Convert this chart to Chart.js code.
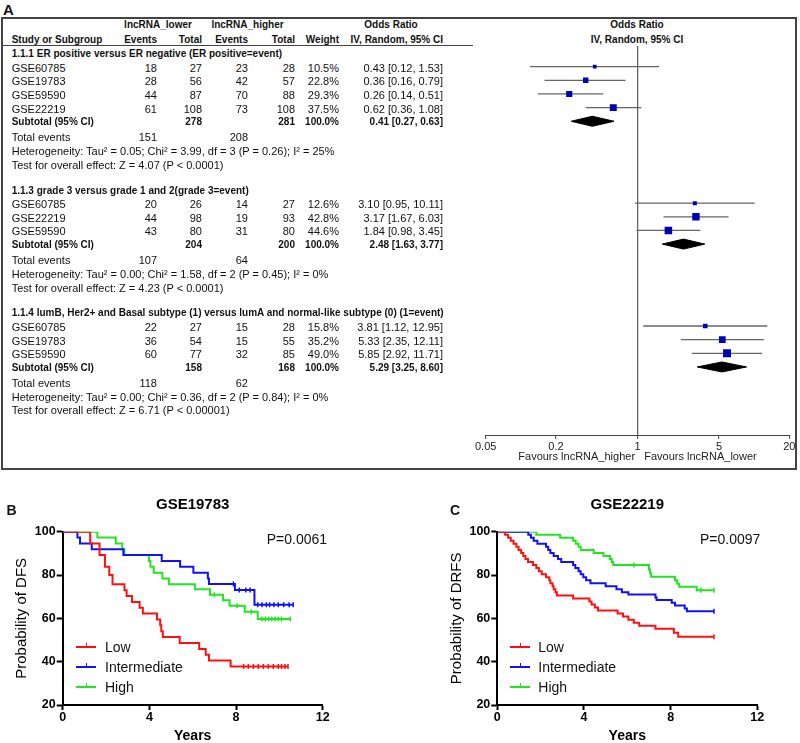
<!DOCTYPE html>
<html>
<head>
<meta charset="utf-8">
<script src="https://cdn.jsdelivr.net/npm/chart.js@4.4.1/dist/chart.umd.min.js"></script>
<style>
  html, body { margin: 0; padding: 0; background: #fff; overflow: hidden; }
  body { width: 800px; height: 743px; position: relative; font-family: "Liberation Sans", Arial, sans-serif; color: #111; }
  .t { position: absolute; white-space: nowrap; line-height: 1; font-size: 11px; }
  .b { font-weight: bold; font-size: 10px; }
  canvas { position: absolute; }
  #boxA { position: absolute; left: 1px; top: 17px; width: 796px; height: 453px; border: 2px solid #444; box-sizing: border-box; }
  #hdrLine { position: absolute; left: 2px; top: 45px; width: 471px; height: 0; border-top: 1.5px solid #444; }
</style>
</head>
<body>
<div id="boxA"></div>
<div id="hdrLine"></div>
<canvas id="forest" width="357" height="424" style="left:440px;top:46px;"></canvas>
<canvas id="kmB" width="400" height="253" style="left:0px;top:490px;"></canvas>
<canvas id="kmC" width="365" height="253" style="left:435px;top:490px;"></canvas>
<script>
// ---- panel A: forest plot data ----
const groupTitles = [
  '1.1.1 ER positive versus ER negative (ER positive=event)',
  '1.1.3 grade 3 versus grade 1 and 2(grade 3=event)',
  '1.1.4 lumB, Her2+ and Basal subtype (1) versus lumA and normal-like subtype (0) (1=event)'
];
const studyGroup = [0, 0, 0, 0, 1, 1, 1, 2, 2, 2];
const studyNames = ['GSE60785', 'GSE19783', 'GSE59590', 'GSE22219', 'GSE60785', 'GSE22219', 'GSE59590', 'GSE60785', 'GSE19783', 'GSE59590'];
const lowerEvents = [18, 28, 44, 61, 20, 44, 43, 22, 36, 60];
const lowerTotal = [27, 56, 87, 108, 26, 98, 80, 27, 54, 77];
const higherEvents = [23, 42, 70, 73, 14, 19, 31, 15, 15, 32];
const higherTotal = [28, 57, 88, 108, 27, 93, 80, 28, 55, 85];
const weights = [10.5, 22.8, 29.3, 37.5, 12.6, 42.8, 44.6, 15.8, 35.2, 49.0];
const orEst = [0.43, 0.36, 0.26, 0.62, 3.10, 3.17, 1.84, 3.81, 5.33, 5.85];
const orLow = [0.12, 0.16, 0.14, 0.36, 0.95, 1.67, 0.98, 1.12, 2.35, 2.92];
const orHigh = [1.53, 0.79, 0.51, 1.08, 10.11, 6.03, 3.45, 12.95, 12.11, 11.71];

const subtotalLower = [278, 204, 158];
const subtotalHigher = [281, 200, 168];
const subtotalOR = [0.41, 2.48, 5.29];
const subtotalLow = [0.27, 1.63, 3.25];
const subtotalHigh = [0.63, 3.77, 8.60];
const eventsLower = [151, 107, 118];
const eventsHigher = [208, 64, 62];
const heterogeneity = [
  'Tau² = 0.05; Chi² = 3.99, df = 3 (P = 0.26); I² = 25%',
  'Tau² = 0.00; Chi² = 1.58, df = 2 (P = 0.45); I² = 0%',
  'Tau² = 0.00; Chi² = 0.36, df = 2 (P = 0.84); I² = 0%'
];
const overallEffect = ['Z = 4.07 (P < 0.0001)', 'Z = 4.23 (P < 0.0001)', 'Z = 6.71 (P < 0.00001)'];
const orTicks = [0.05, 0.2, 1, 5, 20];

// ---- panel B: GSE19783 (DFS) ----
const bLowT = [1.27, 1.7, 1.95, 2.15, 2.3, 2.85, 2.95, 3.2, 3.55, 3.7, 4.35, 4.5, 4.55, 4.62, 5.4, 6.3, 6.6, 6.75, 7.75];
const bLowS = [94.6, 89.2, 83.8, 80.0, 75.7, 73.0, 70.3, 67.6, 64.9, 62.2, 59.5, 56.8, 54.1, 51.4, 48.6, 45.9, 43.2, 40.5, 37.8];
const bLowC = [8.35, 8.57, 8.8, 9.03, 9.26, 9.49, 9.72, 9.95, 10.1, 10.26, 10.4];
const bIntT = [0.68, 0.8, 1.34, 2.8, 4.57, 5.42, 6.03, 6.7, 6.75, 7.95, 8.85];
const bIntS = [97.3, 94.6, 91.9, 89.2, 86.5, 83.8, 81.1, 78.4, 75.9, 73.1, 66.3];
const bIntC = [7.88, 8.15, 8.45, 8.65, 9.0, 9.2, 9.4, 9.55, 9.75, 9.95, 10.2, 10.45, 10.64];
const bHighT = [1.6, 2.45, 2.75, 2.85, 3.98, 4.05, 4.2, 4.6, 4.9, 6.1, 6.8, 7.4, 7.7, 8.4, 9.0];
const bHighS = [97.3, 94.6, 91.9, 89.2, 86.5, 83.8, 81.1, 78.4, 75.7, 73.4, 70.9, 68.3, 65.8, 63.1, 59.7];
const bHighC = [7.0, 8.05, 8.7, 9.2, 9.35, 9.5, 9.65, 9.8, 9.95, 10.1, 10.5];

// ---- panel C: GSE22219 (DRFS) ----
const cLowT = [0.36, 0.5, 0.62, 0.75, 0.88, 0.98, 1.1, 1.2, 1.3, 1.42, 1.65, 1.8, 1.92, 2.05, 2.25, 2.4, 2.45, 2.55, 2.6, 2.68, 2.75, 3.5, 4.25, 4.35, 4.5, 4.65, 5.55, 5.8, 6.05, 6.3, 6.55, 7.3, 8.15, 8.35];
const cLowS = [98.6, 97.2, 95.8, 94.4, 93.0, 91.6, 90.2, 88.8, 87.4, 86.0, 84.6, 83.2, 81.8, 80.4, 79.0, 77.6, 76.2, 74.8, 73.4, 72.0, 70.6, 69.2, 67.8, 66.4, 65.0, 63.6, 62.2, 60.8, 59.4, 58.0, 56.6, 55.2, 53.4, 51.5];
const cLowC = [10.0];
const cIntT = [1.43, 1.55, 1.68, 1.85, 2.25, 2.35, 2.45, 2.6, 2.8, 2.95, 3.5, 3.6, 3.75, 3.85, 3.97, 4.1, 4.3, 5.0, 5.5, 5.75, 6.05, 7.3, 7.35, 8.05, 8.2, 8.65, 8.75];
const cIntS = [98.6, 97.2, 95.8, 94.4, 93.0, 91.6, 90.2, 88.8, 87.4, 86.0, 84.6, 83.2, 81.8, 80.4, 79.0, 77.6, 76.2, 74.8, 73.4, 72.0, 71.0, 69.6, 68.5, 67.2, 65.9, 64.6, 63.3];
const cIntC = [10.0];
const cHighT = [1.8, 2.9, 3.5, 3.62, 3.75, 3.85, 4.45, 4.9, 5.2, 5.28, 5.35, 7.0, 7.05, 7.1, 8.2, 8.3, 8.4, 9.2];
const cHighS = [98.6, 97.2, 95.8, 94.4, 93.0, 91.6, 90.2, 88.8, 87.4, 86.0, 84.6, 82.6, 80.8, 79.2, 77.6, 76.0, 74.6, 73.0];
const cHighC = [6.3, 9.4, 10.0];

const groupNames = ['Low', 'Intermediate', 'High'];
const groupColors = ['#ff1010', '#1010ff', '#22e522'];

Chart.defaults.font.family = '"Liberation Sans", Arial, sans-serif';
Chart.defaults.color = '#000';

function put(str, x, y, align, cls) {
  const d = document.createElement('div');
  d.className = 't' + (cls ? ' ' + cls : '');
  d.textContent = str;
  d.style.left = x + 'px';
  d.style.top = y + 'px';
  const tx = align === 'right' ? '-100%' : align === 'center' ? '-50%' : '0';
  d.style.transform = 'translate(' + tx + ',-50%)';
  document.body.appendChild(d);
  return d;
}

// ---- table text ----
const colName = 11.7, colLE = 157, colLT = 202, colHE = 248, colHT = 295, colW = 339, colOR = 443;
const rowY0 = 53, rowH = 13.65;
const rowY = r => rowY0 + r * rowH + 1;
const fmt = v => v.toFixed(2);

put('A', 3, 9, 'left').style.cssText += 'font-weight:bold;font-size:15px;';
put('lncRNA_lower', 158, 25, 'center', 'b');
put('lncRNA_higher', 247.5, 25, 'center', 'b');
put('Odds Ratio', 391, 25, 'center', 'b');
put('Odds Ratio', 637, 25, 'center', 'b');
put('Study or Subgroup', colName, 40, 'left', 'b');
put('Events', colLE, 40, 'right', 'b');
put('Total', colLT, 40, 'right', 'b');
put('Events', colHE, 40, 'right', 'b');
put('Total', colHT, 40, 'right', 'b');
put('Weight', colW, 40, 'right', 'b');
put('IV, Random, 95% CI', colOR, 40, 'right', 'b');
put('IV, Random, 95% CI', 637, 40, 'center', 'b');

const studyRow = [], subRow = [];
let r = 0;
groupTitles.forEach((g, gi) => {
  put(g, colName, rowY(r), 'left', 'b');
  r++;
  studyNames.forEach((n, i) => {
    if (studyGroup[i] !== gi) return;
    const y = rowY(r);
    studyRow[i] = r;
    put(n, colName, y, 'left');
    put(String(lowerEvents[i]), colLE, y, 'right');
    put(String(lowerTotal[i]), colLT, y, 'right');
    put(String(higherEvents[i]), colHE, y, 'right');
    put(String(higherTotal[i]), colHT, y, 'right');
    put(weights[i].toFixed(1) + '%', colW, y, 'right');
    put(fmt(orEst[i]) + ' [' + fmt(orLow[i]) + ', ' + fmt(orHigh[i]) + ']', colOR, y, 'right');
    r++;
  });
  subRow[gi] = r;
  let y = rowY(r);
  put('Subtotal (95% CI)', colName, y, 'left', 'b');
  put(String(subtotalLower[gi]), colLT, y, 'right', 'b');
  put(String(subtotalHigher[gi]), colHT, y, 'right', 'b');
  put('100.0%', colW, y, 'right', 'b');
  put(fmt(subtotalOR[gi]) + ' [' + fmt(subtotalLow[gi]) + ', ' + fmt(subtotalHigh[gi]) + ']', colOR, y, 'right', 'b');
  r++;
  y = rowY(r) + 1.5;
  put('Total events', colName, y, 'left');
  put(String(eventsLower[gi]), colLE, y, 'right');
  put(String(eventsHigher[gi]), colHE, y, 'right');
  r++;
  put('Heterogeneity: ' + heterogeneity[gi], colName, rowY(r) + 1.5, 'left');
  r++;
  put('Test for overall effect: ' + overallEffect[gi], colName, rowY(r) + 1.5, 'left');
  r += 2;
});

// ---- forest plot ----
const fMin = -(rowY0 - 46) / rowH;
const fMax = fMin + 389 / rowH;
const dh = 5 / rowH;
const forestSets = [{
  data: studyNames.map((n, i) => ({ x: orEst[i], y: studyRow[i] })),
  pointStyle: 'rect',
  pointRadius: weights.map(w => 0.8 * Math.sqrt(w)),
  backgroundColor: '#0000b4',
  borderWidth: 0
}];
groupTitles.forEach((g, gi) => {
  const y = subRow[gi];
  forestSets.push({
    data: [
      { x: subtotalLow[gi], y: y }, { x: subtotalOR[gi], y: y - dh },
      { x: subtotalHigh[gi], y: y }, { x: subtotalOR[gi], y: y + dh },
      { x: subtotalLow[gi], y: y }
    ],
    showLine: true, fill: 'shape', pointRadius: 0,
    borderColor: '#000', backgroundColor: '#000', borderWidth: 1
  });
});
studyNames.forEach((n, i) => {
  forestSets.push({
    data: [{ x: orLow[i], y: studyRow[i] }, { x: orHigh[i], y: studyRow[i] }],
    showLine: true, pointRadius: 0, borderColor: '#666', borderWidth: 1.3
  });
});

new Chart(document.getElementById('forest'), {
  type: 'scatter',
  data: { datasets: forestSets },
  options: {
    responsive: false, animation: false, devicePixelRatio: 1, events: [],
    layout: { autoPadding: false, padding: { left: 45.7, right: 7.7, top: 0, bottom: 0 } },
    plugins: { legend: { display: false }, tooltip: { enabled: false } },
    scales: {
      y: { type: 'linear', display: false, reverse: true, min: fMin, max: fMax },
      x: {
        type: 'logarithmic', min: 0.05, max: 20, position: 'bottom',
        afterBuildTicks: ax => { ax.ticks = orTicks.map(v => ({ value: v })); },
        afterFit: ax => { ax.height = 35; },
        ticks: { callback: v => String(v), font: { size: 11 }, color: '#222', padding: 1, maxRotation: 0, autoSkip: false },
        grid: {
          color: c => (c.tick && c.tick.value === 1) ? '#666' : 'rgba(0,0,0,0)',
          lineWidth: 1.3, drawTicks: true, tickLength: 4, tickColor: '#444', tickWidth: 1
        },
        border: { display: true, color: '#444', width: 1 },
        title: { display: true, text: 'Favours lncRNA_higher   Favours lncRNA_lower', font: { size: 11 }, color: '#222', padding: { top: 0, bottom: 6 } }
      }
    }
  }
});

// ---- Kaplan-Meier panels ----
function kmPoints(times, surv, end) {
  const pts = [{ x: 0, y: 100 }];
  times.forEach((t, i) => pts.push({ x: t, y: surv[i] }));
  pts.push({ x: end, y: surv[surv.length - 1] });
  return pts;
}
function survAt(times, surv, t) {
  let s = 100;
  times.forEach((tt, i) => { if (tt <= t) s = surv[i]; });
  return s;
}

function kmChart(id, title, yTitle, series, yWidth, padRight) {
  const datasets = [];
  series.forEach((s, k) => {
    datasets.push({
      data: kmPoints(s.t, s.s, Math.max(...s.c)), showLine: true, stepped: 'before',
      borderColor: groupColors[k], borderWidth: 2, pointRadius: 0, fill: false
    });
  });
  series.forEach((s, k) => {
    datasets.push({
      data: s.c.map(t => ({ x: t, y: survAt(s.t, s.s, t) })), showLine: false,
      pointStyle: 'line', rotation: 90, pointRadius: 2.5, borderColor: groupColors[k], borderWidth: 1.5
    });
  });
  new Chart(document.getElementById(id), {
    type: 'scatter',
    data: { datasets: datasets },
    options: {
      responsive: false, animation: false, devicePixelRatio: 1, events: [],
      layout: { autoPadding: false, padding: { left: 0, right: padRight, top: 0, bottom: 0 } },
      plugins: {
        legend: { display: false }, tooltip: { enabled: false },
        title: { display: true, text: title, fullSize: false, font: { size: 15, weight: 'bold' }, color: '#000', padding: { top: 6, bottom: 17.7 } }
      },
      scales: {
        x: {
          type: 'linear', min: 0, max: 12,
          afterFit: ax => { ax.height = 38; },
          ticks: { stepSize: 4, font: { size: 12.5, weight: 'bold' }, color: '#000', padding: 0, maxRotation: 0 },
          grid: { drawOnChartArea: false, drawTicks: true, tickLength: 5, tickColor: '#000', tickWidth: 2 },
          border: { display: true, color: '#000', width: 2 },
          title: { display: true, text: 'Years', font: { size: 14, weight: 'bold', lineHeight: 1 }, color: '#000', padding: { top: 0, bottom: 0 } }
        },
        y: {
          type: 'linear', min: 20, max: 100,
          afterFit: ax => { ax.width = yWidth; },
          ticks: { stepSize: 20, font: { size: 12.5, weight: 'bold' }, color: '#000', padding: 1 },
          grid: { drawOnChartArea: false, drawTicks: true, tickLength: 6, tickColor: '#000', tickWidth: 2 },
          border: { display: true, color: '#000', width: 2 },
          title: { display: true, text: yTitle, font: { size: 15 }, color: '#000', padding: { top: 13, bottom: 0 } }
        }
      }
    }
  });
}

kmChart('kmB', 'GSE19783', 'Probability of DFS', [
  { t: bLowT, s: bLowS, c: bLowC },
  { t: bIntT, s: bIntS, c: bIntC },
  { t: bHighT, s: bHighS, c: bHighC }
], 62.7, 77.3);
kmChart('kmC', 'GSE22219', 'Probability of DRFS', [
  { t: cLowT, s: cLowS, c: cLowC },
  { t: cIntT, s: cIntS, c: cIntC },
  { t: cHighT, s: cHighS, c: cHighC }
], 62.3, 42.7);

// panel letters, p-values, legends
put('B', 6.5, 510, 'left').style.cssText += 'font-weight:bold;font-size:14px;';
put('C', 450, 510, 'left').style.cssText += 'font-weight:bold;font-size:14px;';
put('P=0.0061', 266.7, 539, 'left').style.fontSize = '14px';
put('P=0.0097', 700, 539, 'left').style.fontSize = '14px';

const legendY = [647.3, 667.3, 686.7];
[[76, 105], [510, 538.3]].forEach(([lx, tx]) => {
  groupNames.forEach((name, k) => {
    const y = legendY[k];
    const ln = document.createElement('div');
    ln.style.cssText = 'position:absolute;left:' + lx + 'px;top:' + (y - 1) + 'px;width:20px;height:2px;background:' + groupColors[k] + ';';
    document.body.appendChild(ln);
    const tk = document.createElement('div');
    tk.style.cssText = 'position:absolute;left:' + (lx + 9.5) + 'px;top:' + (y - 4) + 'px;width:1.5px;height:4px;background:' + groupColors[k] + ';';
    document.body.appendChild(tk);
    put(name, tx, y, 'left').style.fontSize = '14px';
  });
});
</script>
</body>
</html>
